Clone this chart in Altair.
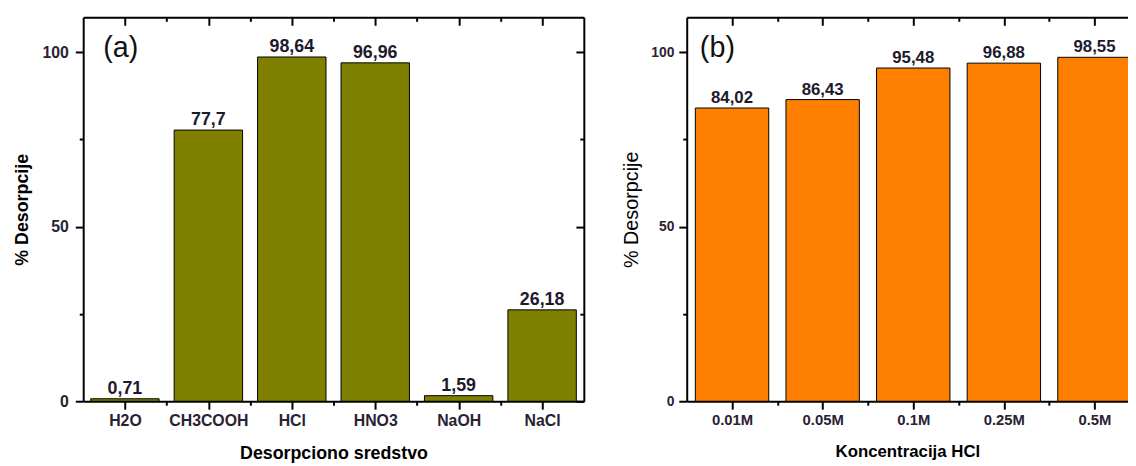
import json
import altair as alt
import pandas as pd

# ---- data ----
agents = ["H2O", "CH3COOH", "HCl", "HNO3", "NaOH", "NaCl"]
desorption_agents = [0.71, 77.7, 98.64, 96.96, 1.59, 26.18]
concentrations = ["0.01M", "0.05M", "0.1M", "0.25M", "0.5M"]
desorption_conc = [84.02, 86.43, 95.48, 96.88, 98.55]
y_ticks = [0, 25, 50, 75, 100]

FONT = "Liberation Sans"
INK = "#2a2233"


def frame(names, values):
    return pd.DataFrame({
        "idx": list(range(len(names))),
        "name": names,
        "value": values,
        "label": [f"{v:g}".replace(".", ",") for v in values],
    })


def panel(names, values, color, tag, x_max, width, half, x_title, x_label_size,
          x_title_size, y_label_size, y_label_weight, y_title_size, y_title_weight,
          y_title_pad, y_label_pad, value_size, tag_x, right_axis):
    df = frame(names, values)
    n = len(names)
    xvals = [k / 2 for k in range(0, 2 * (n - 1) + 1)]
    xscale = alt.Scale(domain=[-0.5, x_max], nice=False, zero=False)
    yscale = alt.Scale(domain=[0, 110], nice=False, zero=True)
    name_expr = f"datum.value % 1 === 0 ? {json.dumps(names)}[datum.value] : ''"

    bottom = alt.Axis(
        orient="bottom", values=xvals, labelExpr=name_expr, labelOverlap=False,
        labelFlush=False, grid=False,
        tickSize={"expr": "datum.value % 1 === 0 ? 8 : 4"}, tickWidth=2, tickColor="black",
        domainColor="black", domainWidth=2,
        labelFont=FONT, labelFontSize=x_label_size, labelFontWeight="bold", labelColor=INK,
        labelPadding=4, title=x_title, titleFont=FONT, titleFontSize=x_title_size,
        titleFontWeight="bold", titleColor="black", titlePadding=16,
    )
    left = alt.Axis(
        orient="left", values=y_ticks, labelExpr="datum.value % 50 === 0 ? datum.label : ''",
        labelOverlap=False, labelFlush=False, grid=False,
        tickSize={"expr": "datum.value % 50 === 0 ? 8 : 4"}, tickWidth=2, tickColor="black",
        domainColor="black", domainWidth=2,
        labelFont=FONT, labelFontSize=y_label_size, labelFontWeight=y_label_weight,
        labelColor=INK, labelPadding=y_label_pad,
        title="% Desorpcije", titleFont=FONT, titleFontSize=y_title_size,
        titleFontWeight=y_title_weight, titleColor="black", titlePadding=y_title_pad,
    )
    top = alt.Axis(
        orient="top", values=xvals, labels=False, title=None, grid=False,
        tickSize={"expr": "datum.value % 1 === 0 ? -8 : -4"}, tickWidth=2, tickColor="black",
        domainColor="black", domainWidth=2,
    )
    if right_axis:
        right = alt.Axis(
            orient="right", values=y_ticks, labels=False, title=None, grid=False,
            tickSize={"expr": "datum.value % 50 === 0 ? -8 : -4"}, tickWidth=2,
            tickColor="black", domainColor="black", domainWidth=2,
        )
    else:
        right = None

    base = alt.Chart(df).transform_calculate(
        lo=f"datum.idx - {half}", hi=f"datum.idx + {half}"
    )
    bars = base.mark_rect(color=color, stroke="black", strokeWidth=1, clip=True).encode(
        x=alt.X("lo:Q", scale=xscale, axis=bottom),
        x2="hi:Q",
        y=alt.Y("value:Q", scale=yscale, axis=left),
        y2=alt.datum(0),
    )
    text = base.mark_text(font=FONT, fontSize=value_size, fontWeight="bold", color="#1e1a2e",
                          baseline="alphabetic", align="center", dy=-5).encode(
        x="idx:Q", y="value:Q", text="label:N"
    )
    tag_mark = alt.Chart(pd.DataFrame({"t": [tag]})).mark_text(
        font=FONT, fontSize=29, color="#111111", align="center", baseline="alphabetic"
    ).encode(x=alt.value(tag_x), y=alt.value(40.5), text="t:N")

    inner = alt.layer(bars, text, tag_mark)
    mirror = alt.Chart(df).mark_point(opacity=0).encode(
        x=alt.X("idx:Q", scale=xscale, axis=top),
        y=alt.Y("value:Q", scale=yscale, axis=right),
    )
    return alt.layer(inner, mirror).resolve_scale(x="independent", y="independent").properties(
        width=width, height=388
    )


panel_a = panel(agents, desorption_agents, "#808000", "(a)", 5.5, 506, 0.41,
                "Desorpciono sredstvo", 16, 18, 16, "bold", 18, "bold", 11, 7, 18, 38, True)
panel_b = panel(concentrations, desorption_conc, "#FF8000", "(b)", 4.37, 446, 0.405,
                "Koncentracija HCl", 15, 17, 14, "bold", 20, "normal", 9, 5, 17, 31, False)

chart = alt.hconcat(panel_a, panel_b, spacing=37).properties(
    padding={"left": 5, "top": 6, "right": 0, "bottom": 0}
).configure_view(stroke=None)

chart.save("out.html", embed_options={"renderer": "svg", "actions": False})
